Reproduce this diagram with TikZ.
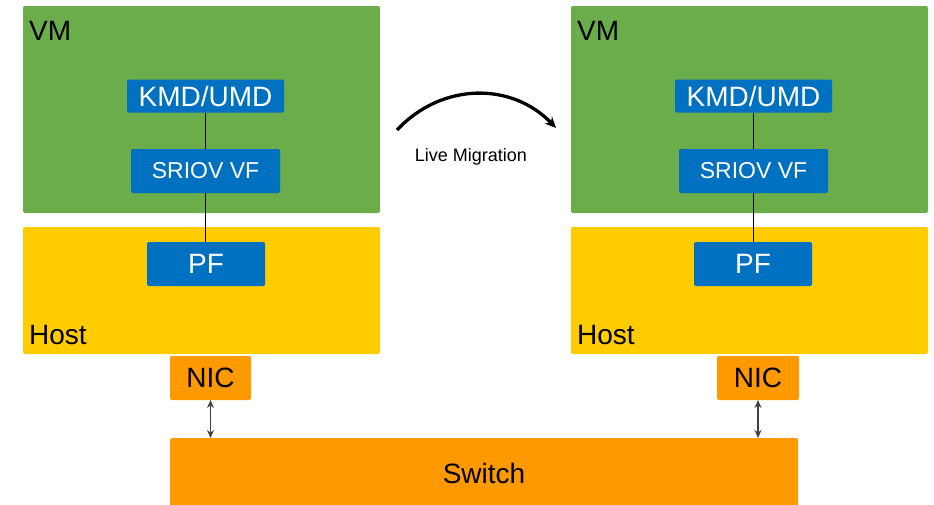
\documentclass[tikz,border=0pt]{standalone}
\usepackage{fontspec}
\setmainfont{Liberation Sans}
\usetikzlibrary{arrows.meta}
\definecolor{vmgreen}{HTML}{6AAD4A}
\definecolor{hostyellow}{HTML}{FFCC00}
\definecolor{boxblue}{HTML}{0070C0}
\definecolor{niccol}{HTML}{FF9900}
\tikzset{
  area/.style={rounded corners=2pt, inner sep=0pt, outer sep=0pt},
  bluebox/.style={area, fill=boxblue, text=white},
  bigtxt/.style={font=\fontsize{28}{28}\selectfont},
  midtxt/.style={font=\fontsize{23}{23}\selectfont},
  conn/.style={line width=1pt, black},
  dbl/.style={line width=1.2pt, black!75, {Stealth[length=8pt,width=7pt]}-{Stealth[length=8pt,width=7pt]}},
}
\begin{document}
\begin{tikzpicture}[x=1pt,y=-1pt]
\useasboundingbox (0,0) rectangle (934,504);
% Left stack
\path[area, fill=vmgreen] (23,6) rectangle (380,213);
\node[anchor=west, bigtxt, inner sep=0pt] (vmL) at (29,31) {VM};
\path[area, fill=hostyellow] (23,227) rectangle (380,354);
\node[anchor=west, bigtxt, inner sep=0pt] (hostL) at (29,335) {Host};
\node[bluebox, bigtxt, minimum width=157pt, minimum height=33pt] (kmdL) at (205.5,96) {KMD/UMD};
\node[bluebox, midtxt, minimum width=149pt, minimum height=44pt] (vfL) at (205.5,171) {SRIOV VF};
\node[bluebox, bigtxt, minimum width=118pt, minimum height=44pt] (pfL) at (206,264) {PF};
\node[area, fill=niccol, bigtxt, minimum width=81pt, minimum height=44pt] (nicL) at (210.5,378) {NIC};
% Right stack
\path[area, fill=vmgreen] (571,6) rectangle (928,213);
\node[anchor=west, bigtxt, inner sep=0pt] (vmR) at (577,31) {VM};
\path[area, fill=hostyellow] (571,227) rectangle (928,354);
\node[anchor=west, bigtxt, inner sep=0pt] (hostR) at (577,335) {Host};
\node[bluebox, bigtxt, minimum width=157pt, minimum height=33pt] (kmdR) at (753.5,96) {KMD/UMD};
\node[bluebox, midtxt, minimum width=149pt, minimum height=44pt] (vfR) at (753.5,171) {SRIOV VF};
\node[bluebox, bigtxt, minimum width=118pt, minimum height=44pt] (pfR) at (753,264) {PF};
\node[area, fill=niccol, bigtxt, minimum width=82pt, minimum height=44pt] (nicR) at (758,378) {NIC};
% Switch
\node[area, fill=niccol, minimum width=628pt, minimum height=70pt, anchor=north west] (sw) at (170,438) {};
\node[bigtxt, inner sep=0pt] (swlbl) at (484,473) {Switch};
% Connectors
\draw[conn] (kmdL.south) -- (vfL.north);
\draw[conn] (vfL.south) -- (vfL.south |- pfL.north);
\draw[conn] (kmdR.south) -- (vfR.north);
\draw[conn] (vfR.south) -- (vfR.south |- pfR.north);
\draw[dbl] (nicL.south) -- (nicL.south |- sw.north);
\draw[dbl] (nicR.south) -- (nicR.south |- sw.north);
% Migration arrow
\coordinate (ms) at (397,130);
\coordinate (me) at (556,128);
\draw[line width=3.3pt, -{Stealth[length=11pt,width=10pt]}] (ms) .. controls (442,82) and (512,82) .. (me);
\node[font=\fontsize{18}{18}\selectfont] (mig) at (471,157) {Live Migration};
\end{tikzpicture}
\end{document}
